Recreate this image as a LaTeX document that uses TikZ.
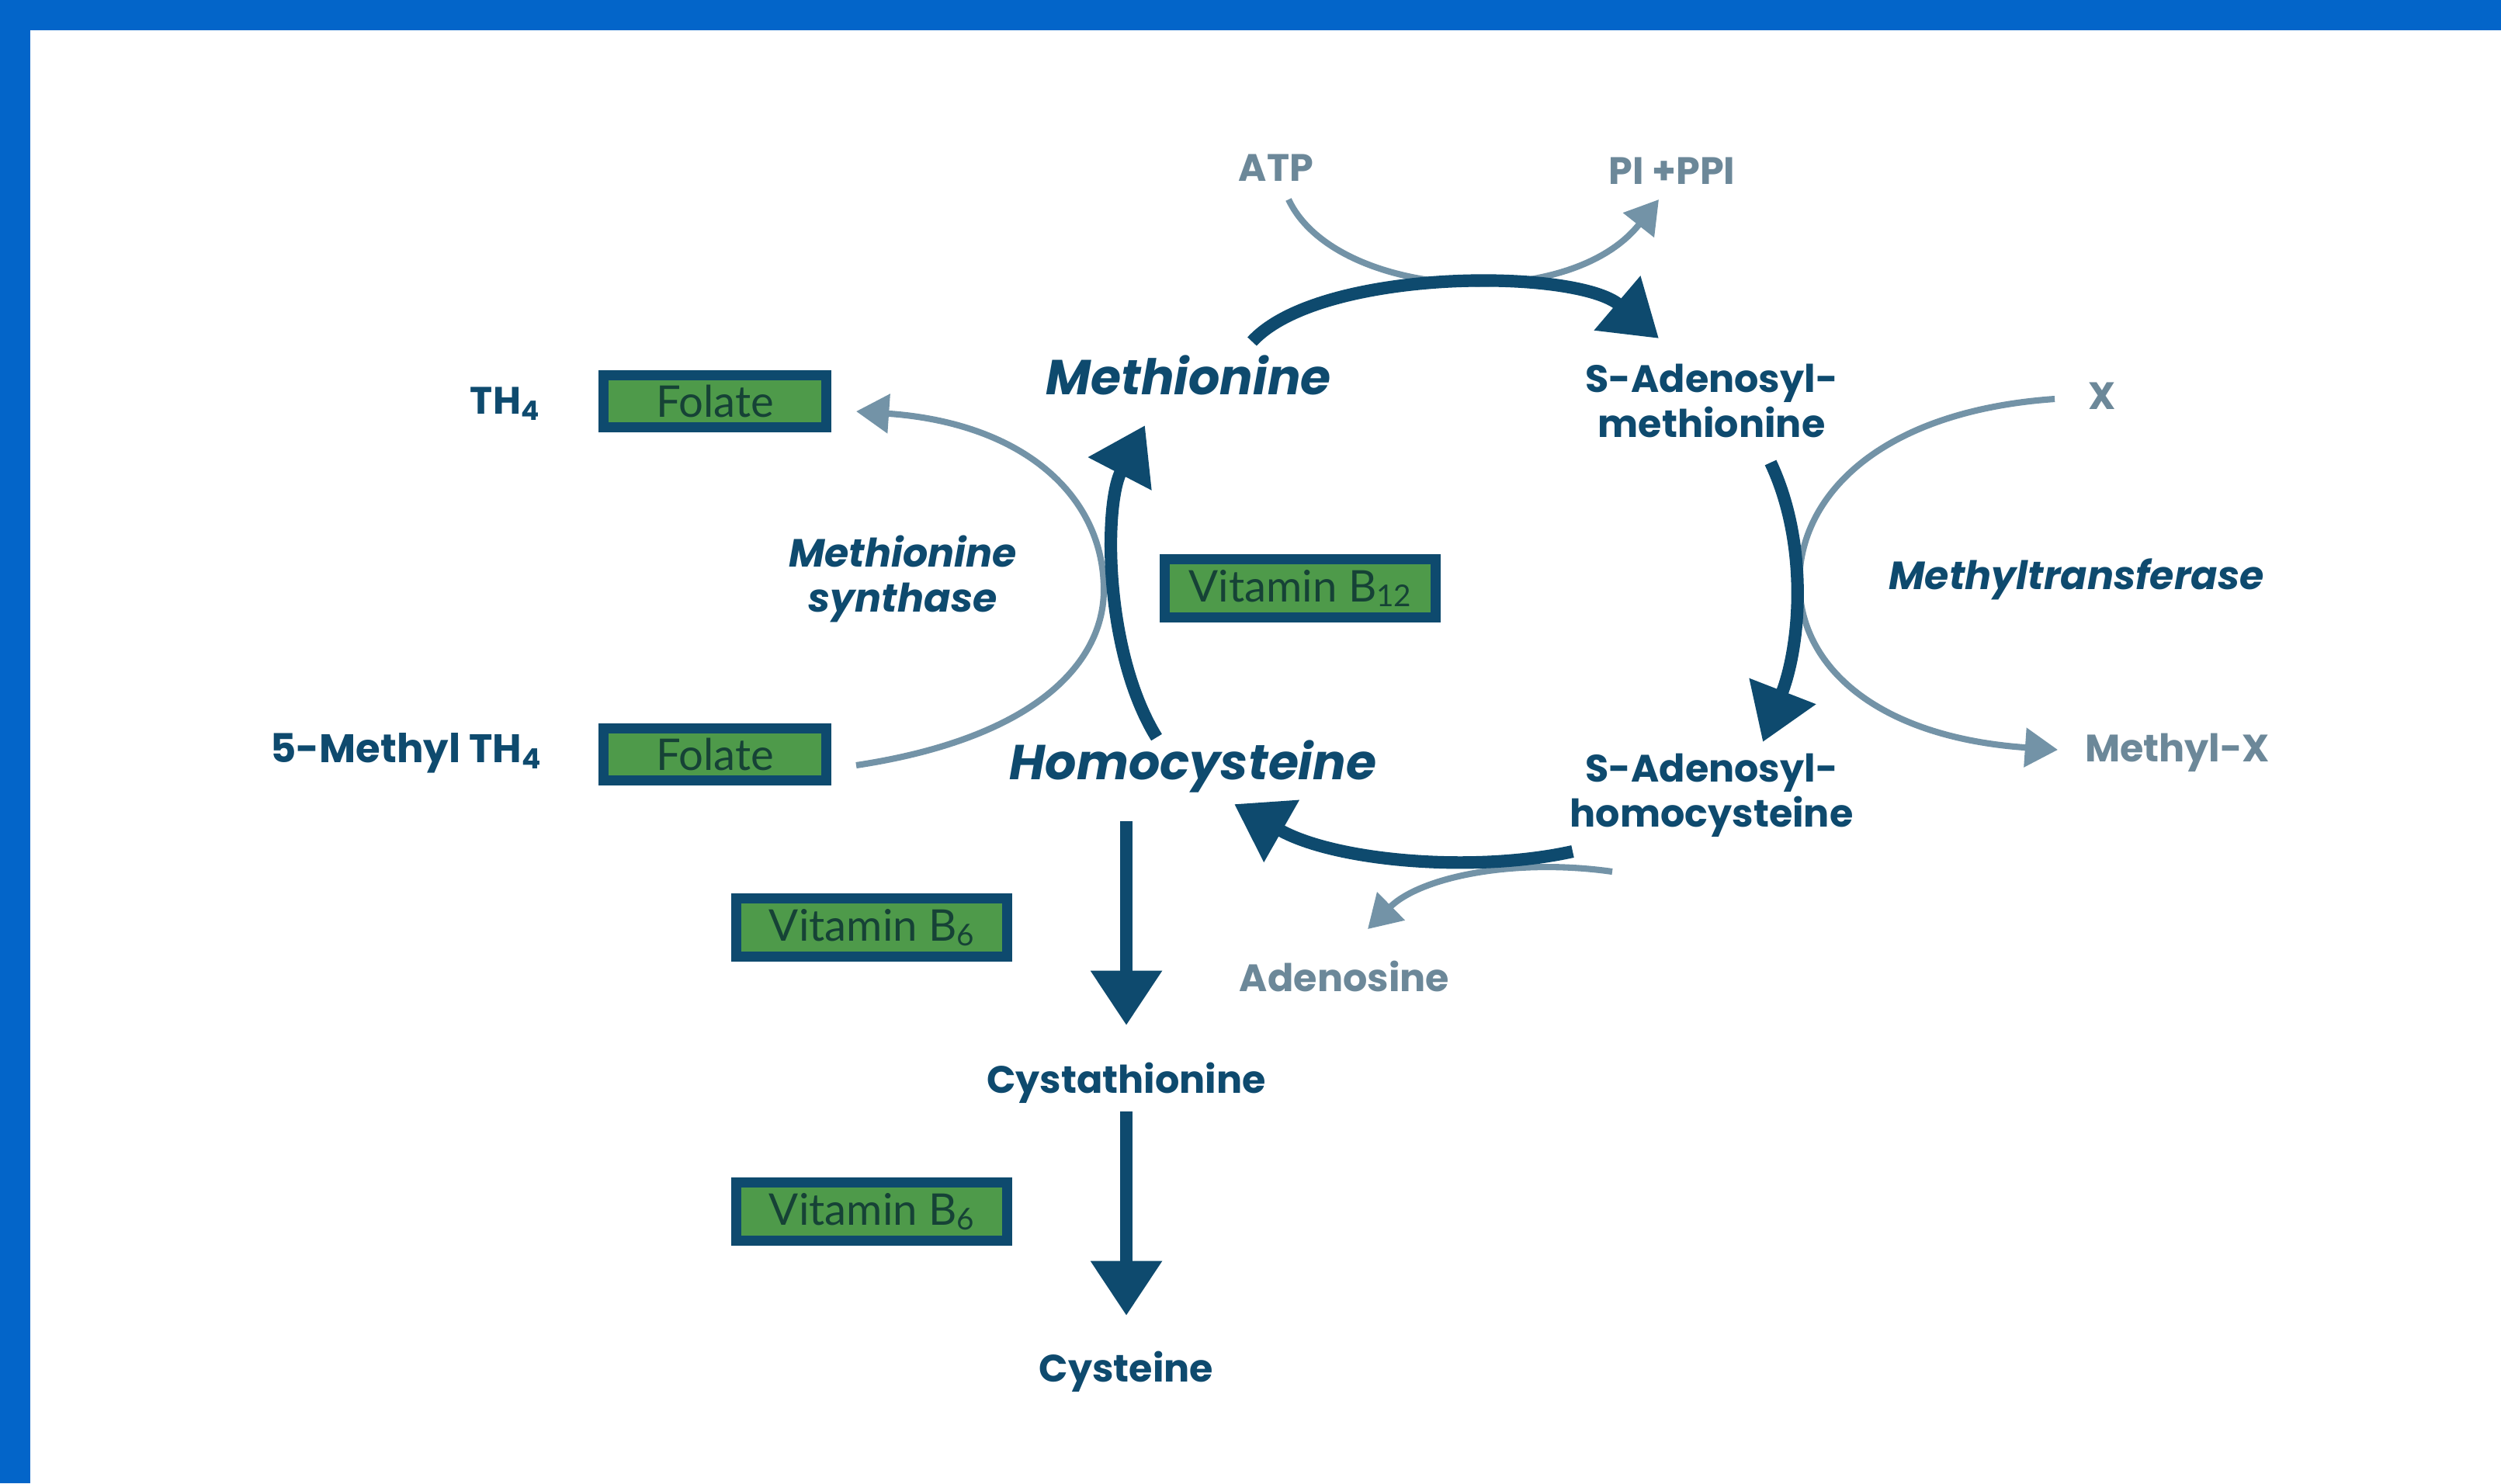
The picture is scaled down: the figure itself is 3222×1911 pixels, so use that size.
\documentclass[tikz,border=0pt]{standalone}
\usepackage{fontspec}
\setmainfont{Poppins}
\newfontfamily\boxfont{Lato}
\usetikzlibrary{arrows.meta}
\definecolor{frameblue}{RGB}{3,101,201}
\definecolor{navy}{RGB}{14,74,110}
\definecolor{grayarrow}{RGB}{115,147,167}
\definecolor{graytext}{RGB}{108,136,153}
\definecolor{boxgreen}{RGB}{78,154,74}
\definecolor{boxtext}{RGB}{22,66,54}
\begin{document}
\begin{tikzpicture}[x=0.01cm,y=-0.01cm,
  mainlbl/.style={font=\bfseries\itshape\fontsize{18}{21}\selectfont, text=navy, inner sep=0},
  lbl/.style={font=\bfseries\fontsize{14}{16.5}\selectfont, text=navy, align=center, inner sep=0},
  enz/.style={font=\bfseries\itshape\fontsize{14.4}{16.5}\selectfont, text=navy, align=center, inner sep=0},
  glbl/.style={font=\bfseries\fontsize{14}{16.5}\selectfont, text=graytext, inner sep=0},
  folbox/.style={draw=navy, line width=3.7pt, fill=boxgreen, minimum width=2.87cm, minimum height=0.67cm, inner sep=0, font=\boxfont\fontsize{16}{18}\selectfont, text=boxtext},
  vitbox/.style={folbox, minimum width=3.49cm, minimum height=0.75cm},
  darrow/.style={draw=navy, line width=4.6pt, -{Triangle[width=25pt,length=20pt]}},
  garrow/.style={draw=grayarrow, line width=2.3pt, -{Triangle[width=14pt,length=12pt]}}
]
\useasboundingbox (0,0) rectangle (3222,1911);
\fill[white] (0,0) rectangle (3222,1911);
\fill[frameblue] (0,0) rectangle (3222,39);
\fill[frameblue] (0,0) rectangle (39,1911);

% labels
\node[glbl] (atp) at (1644,216) {ATP};
\node[glbl] (ppi) at (2154,220) {PI +PPI};
\node[mainlbl] (met) at (1531,483) {Methionine};
\node[lbl] (sam) at (2205,516) {S-Adenosyl-\\methionine};
\node[glbl] (x) at (2708,510) {X};
\node[enz] (mt) at (2675,746) {Methyltransferase};
\node[glbl] (mx) at (2805,970) {Methyl-X};
\node[lbl] (sah) at (2205,1025) {S-Adenosyl-\\homocysteine};
\node[mainlbl] (hcy) at (1537,988) {Homocysteine};
\node[glbl] (ado) at (1732,1258) {Adenosine};
\node[lbl] (cth) at (1451,1395) {Cystathionine};
\node[lbl] (cys) at (1451,1767) {Cysteine};
\node[lbl] (th4) at (651,520) {TH\textsubscript{4}};
\node[lbl, anchor=east, font=\bfseries\fontsize{14.6}{16.5}\selectfont] (mth4) at (699,970) {5-Methyl TH\textsubscript{4}};
\node[enz] (ms) at (1163,746) {Methionine\\synthase};
\node[folbox] (fol1) at (921,517) {Folate};
\node[folbox] (fol2) at (921,972) {Folate};
\node[vitbox] (b12) at (1675,758) {Vitamin B{\fontsize{11}{12}\selectfont\raisebox{-0.3ex}{12}}};
\node[vitbox] (b6a) at (1123,1195) {Vitamin B{\fontsize{11}{12}\selectfont\raisebox{-0.3ex}{6}}};
\node[vitbox] (b6b) at (1123,1561) {Vitamin B{\fontsize{11}{12}\selectfont\raisebox{-0.3ex}{6}}};

% connector end points
\coordinate (atpS) at (1660,257);
\coordinate (ppiE) at (2137,257);
\coordinate (metS) at (1613,440);
\coordinate (samE) at (2137,436);
\coordinate (xS) at (2647,514);
\coordinate (xM) at (2318,750);
\coordinate (mxE) at (2651,966);
\coordinate (samS) at (2281,596);
\coordinate (sahE) at (2271,956);
\coordinate (sahS) at (2026,1097);
\coordinate (hcyE) at (1590,1036);
\coordinate (sahG) at (2077,1123);
\coordinate (adoE) at (1762,1197);
\coordinate (hcyS) at (1490,950);
\coordinate (metE) at (1475,548);
\coordinate (folS) at (1103,986);
\coordinate (msM) at (1422,760);
\coordinate (folE) at (1103,530);
\coordinate (hcyD) at (1451,1058);
\coordinate (cthE) at (1451,1321);
\coordinate (cthD) at (1451,1432);
\coordinate (cysE) at (1451,1695);

% gray side reactions
\draw[garrow] (atpS) .. controls (1720,385) and (2020,405) .. (ppiE);
\draw[garrow] (xS) .. controls (2420,530) and (2318,640) .. (xM) .. controls (2318,860) and (2420,950) .. (mxE);
\draw[garrow] (sahG) .. controls (1950,1105) and (1830,1130) .. (adoE);
\draw[garrow] (folS) .. controls (1340,950) and (1422,850) .. (msM) .. controls (1422,640) and (1320,545) .. (folE);

% main cycle
\draw[darrow] (metS) .. controls (1700,345) and (2030,345) .. (samE);
\draw[darrow] (samS) .. controls (2330,700) and (2320,830) .. (sahE);
\draw[darrow] (sahS) .. controls (1900,1125) and (1720,1110) .. (hcyE);
\draw[darrow] (hcyS) .. controls (1422,840) and (1422,650) .. (metE);
\draw[darrow] (hcyD) -- (cthE);
\draw[darrow] (cthD) -- (cysE);
\end{tikzpicture}
\end{document}
